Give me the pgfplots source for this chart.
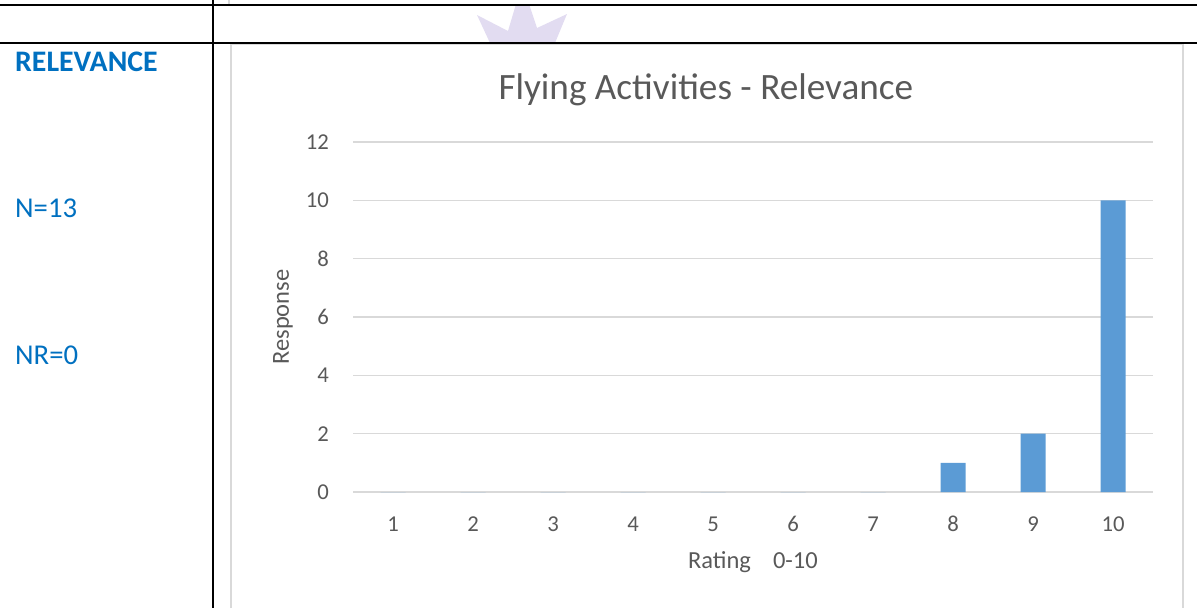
\documentclass[border=0pt]{standalone}
\usepackage{pgfplots}
\pgfplotsset{compat=1.18}
\usepackage{fontspec}
\setmainfont{Carlito}
\definecolor{barblue}{HTML}{5B9BD5}
\definecolor{txtgray}{HTML}{595959}
\definecolor{gridgray}{HTML}{D9D9D9}
\definecolor{headblue}{HTML}{0070C0}
\definecolor{crown}{HTML}{E2DCF1}
\begin{document}
\begin{tikzpicture}
\path[use as bounding box] (0pt,0pt) rectangle (1197pt,-608pt);
% watermark crown
\fill[crown] (490pt,-43pt) -- (477pt,-15pt) -- (508pt,-31pt) -- (516pt,-4pt) -- (529pt,-4pt) -- (537pt,-28pt) -- (567pt,-14pt) -- (555pt,-43pt) -- cycle;
% chart frame
\draw[gridgray, line width=1.5pt] (231pt,-608pt) -- (231pt,-44pt) -- (1183pt,-44pt) -- (1183pt,-608pt);
\draw[gridgray, line width=1.5pt] (229pt,0pt) -- (229pt,-5pt);
% table lines
\draw[black, line width=2pt] (0pt,-5pt) -- (1197pt,-5pt);
\draw[black, line width=2pt] (0pt,-43pt) -- (1197pt,-43pt);
\draw[black, line width=2pt] (213pt,0pt) -- (213pt,-608pt);
% left column text
\node[anchor=base west, inner sep=0pt, text=headblue, font=\fontsize{29.8}{33}\selectfont\bfseries] at (15pt,-71pt) {RELEVANCE};
\node[anchor=west, inner sep=0pt, text=headblue, font=\fontsize{28.7}{32}\selectfont] at (15pt,-208pt) {N=13};
\node[anchor=west, inner sep=0pt, text=headblue, font=\fontsize{28.7}{32}\selectfont] at (15pt,-355pt) {NR=0};
\begin{axis}[
  at={(353pt,-492pt)}, anchor=south west,
  scale only axis, width=800pt, height=350pt,
  xmin=0.5, xmax=10.5, ymin=0, ymax=12,
  xtick={1,...,10}, ytick={0,2,...,12},
  ymajorgrids, grid style={gridgray, line width=1.5pt},
  axis line style={draw=none},
  major tick length=0pt,
  tick label style={text=txtgray, font=\fontsize{22.7}{26}\selectfont},
  /pgf/number format/assume math mode=true,
  y tick label style={anchor=east, inner sep=0pt, xshift=-24pt},
  x tick label style={anchor=center, inner sep=0pt, yshift=-32pt},
  title={Flying Activities - Relevance},
  title style={at={(axis description cs:0.441,1.1029)}, anchor=base, inner sep=0pt, text=txtgray, font=\fontsize{37.2}{42}\selectfont},
  xlabel={Rating\hspace{0.9em}0-10},
  xlabel style={at={(axis description cs:0.5,-0.2)}, anchor=center, inner sep=0pt, text=txtgray, font=\fontsize{24.5}{28}\selectfont},
  ylabel={Response},
  ylabel style={at={(axis description cs:-0.0875,0.5)}, anchor=center, rotate=0, inner sep=0pt, text=txtgray, font=\fontsize{24.5}{28}\selectfont},
  clip=false,
]
\addplot[ybar, bar width=25pt, fill=barblue, draw=none] coordinates {
(1,0) (2,0) (3,0) (4,0) (5,0) (6,0) (7,0) (8,1) (9,2) (10,10)
};
\end{axis}
\end{tikzpicture}
\end{document}
